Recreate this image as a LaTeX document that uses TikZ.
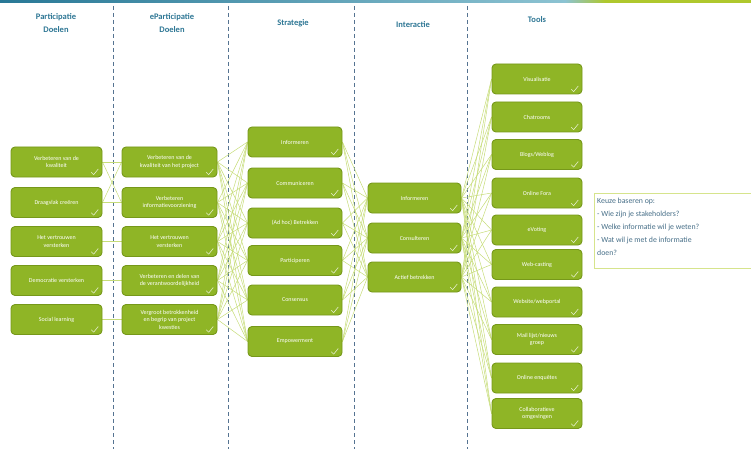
\documentclass[tikz,border=0pt]{standalone}
\usepackage{fontspec}
\setmainfont{Carlito}
\usetikzlibrary{backgrounds}

\definecolor{boxfill}{RGB}{143,181,38}
\definecolor{boxedge}{RGB}{118,152,26}
\definecolor{linkgreen}{RGB}{198,220,120}
\definecolor{divblue}{RGB}{85,115,145}
\definecolor{headblue}{RGB}{45,118,148}
\definecolor{notetext}{RGB}{70,110,135}
\definecolor{noteedge}{RGB}{214,228,140}
\definecolor{barteal}{RGB}{40,120,150}
\definecolor{barlight}{RGB}{140,195,210}
\definecolor{bargreen}{RGB}{175,200,45}

\tikzset{
  box/.style={draw=boxedge, fill=boxfill, line width=0.9pt, rounded corners=4pt,
    minimum height=30pt, text=white, font=\fontsize{6}{7.5}\selectfont,
    align=center, inner sep=2pt},
  link/.style={draw=linkgreen, line width=0.5pt},
  divider/.style={draw=divblue, line width=0.9pt, dash pattern=on 4pt off 3pt},
  head/.style={font=\bfseries\fontsize{8.5}{13}\selectfont, text=headblue, align=center},
  tick/.style={draw=white, line width=0.6pt, opacity=0.75, line cap=round, line join=round},
}

\begin{document}
\begin{tikzpicture}[x=1pt, y=-1pt]
\useasboundingbox (0,0) rectangle (751,449);

% coloured strip along the top edge
\shade[left color=barteal, right color=barlight] (0,0) rectangle (565,3);
\shade[left color=barlight, right color=bargreen] (565,0) rectangle (605,3);
\fill[bargreen] (605,0) rectangle (751,3);

% column headers
\node[head] (h1) at (56,23) {Participatie\\Doelen};
\node[head] (h2) at (172,23) {eParticipatie\\Doelen};
\node[head] (h3) at (293,23) {Strategie};
\node[head] (h4) at (413,25) {Interactie};
\node[head] (h5) at (537,20) {Tools};

% column 1: participatie doelen
\node[box, minimum width=91pt] (a1) at (56.5,162) {Verbeteren van de\\kwaliteit};
\node[box, minimum width=91pt] (a2) at (56.5,202.5) {Draagvlak creëren};
\node[box, minimum width=91pt] (a3) at (56.5,241.5) {Het vertrouwen\\versterken};
\node[box, minimum width=91pt] (a4) at (56.5,280.5) {Democratie versterken};
\node[box, minimum width=91pt] (a5) at (56.5,319.5) {Social learning};

% column 2: eParticipatie doelen
\node[box, minimum width=95pt] (b1) at (169.5,162) {Verbeteren van de\\kwaliteit van het project};
\node[box, minimum width=95pt] (b2) at (169.5,202.5) {Verbeteren\\informatievoorziening};
\node[box, minimum width=95pt] (b3) at (169.5,241.5) {Het vertrouwen\\versterken};
\node[box, minimum width=95pt] (b4) at (169.5,280.5) {Verbeteren en delen van\\de verantwoordelijkheid};
\node[box, minimum width=95pt] (b5) at (169.5,319.5) {Vergroot betrokkenheid\\en begrip van project\\kwesties};

% column 3: strategie
\node[box, minimum width=94pt] (c1) at (295,142) {Informeren};
\node[box, minimum width=94pt] (c2) at (295,183) {Communiceren};
\node[box, minimum width=94pt] (c3) at (295,223) {(Ad hoc) Betrekken};
\node[box, minimum width=94pt] (c4) at (295,260.5) {Participeren};
\node[box, minimum width=94pt] (c5) at (295,300) {Consensus};
\node[box, minimum width=94pt] (c6) at (295,341.5) {Empowerment};

% column 4: interactie
\node[box, minimum width=93pt] (d1) at (414.5,198) {Informeren};
\node[box, minimum width=93pt] (d2) at (414.5,238) {Consulteren};
\node[box, minimum width=93pt] (d3) at (414.5,277) {Actief betrekken};

% column 5: tools
\node[box, minimum width=90pt] (e1) at (537,79) {Visualisatie};
\node[box, minimum width=90pt] (e2) at (537,117) {Chatrooms};
\node[box, minimum width=90pt] (e3) at (537,154.5) {Blogs/Weblog};
\node[box, minimum width=90pt] (e4) at (537,193) {Online Fora};
\node[box, minimum width=90pt] (e5) at (537,230) {eVoting};
\node[box, minimum width=90pt] (e6) at (537,264.5) {Web-casting};
\node[box, minimum width=90pt] (e7) at (537,302) {Website/webportal};
\node[box, minimum width=90pt] (e8) at (537,339.5) {Mail lijst/nieuws\\groep};
\node[box, minimum width=90pt] (e9) at (537,378) {Online enquêtes};
\node[box, minimum width=90pt] (e10) at (537,413.5) {Collaboratieve\\omgevingen};

% small tick in the corner of every box
\foreach \n in {a1,a2,a3,a4,a5,b1,b2,b3,b4,b5,c1,c2,c3,c4,c5,c6,d1,d2,d3,
                e1,e2,e3,e4,e5,e6,e7,e8,e9,e10}
  \draw[tick] ([shift={(-11,-5)}]\n.south east) -- ++(2.2,2.2) -- ++(4.5,-5.5);

% note on the right
\draw[draw=noteedge, line width=1pt] (751,193) -- (594,193) -- (594,268) -- (751,268);
\node[anchor=north west, inner sep=0pt, text=notetext, align=left,
      font=\fontsize{7.8}{13.2}\selectfont] (note) at (597,197.5)
  {Keuze baseren op:\\- Wie zijn je stakeholders?\\- Welke informatie wil je weten?\\- Wat wil je met de informatie\\doen?};

\begin{scope}[on background layer]
  % dashed column separators
  \foreach \x in {113,228,354,467}
    \draw[divider] (\x,6) -- (\x,449);
  % links between the columns
  \draw[link] (a1.east) -- (b1.west);
  \draw[link] (a1.east) -- (b2.west);
  \draw[link] (a2.east) -- (b1.west);
  \draw[link] (a2.east) -- (b2.west);
  \draw[link] (a3.east) -- (b3.west);
  \draw[link] (a4.east) -- (b4.west);
  \draw[link] (a5.east) -- (b5.west);
  \foreach \i in {1,...,5}
    \foreach \j in {1,...,6}
      \draw[link] (b\i.east) -- (c\j.west);
  \foreach \i in {1,...,6}
    \foreach \j in {1,2,3}
      \draw[link] (c\i.east) -- (d\j.west);
  \foreach \i in {1,2,3}
    \foreach \j in {1,...,10}
      \draw[link] (d\i.east) -- (e\j.west);
\end{scope}
\end{tikzpicture}
\end{document}
